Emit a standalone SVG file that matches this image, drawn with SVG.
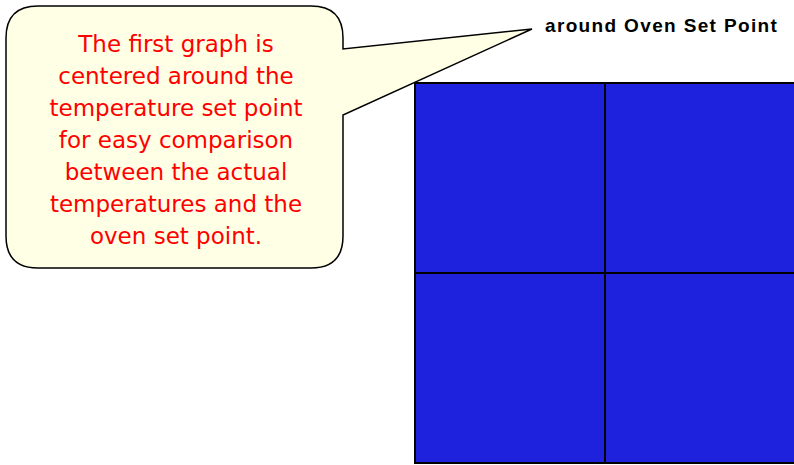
<svg xmlns="http://www.w3.org/2000/svg" width="794" height="465" viewBox="0 0 794 465">
<style>
.callout{fill:#FFFFE6;stroke:#000;stroke-width:1.5}
.ctext{font-family:"DejaVu Sans",Verdana,sans-serif;font-size:23px;fill:#FF0000;text-anchor:middle}
.title{font-family:"Liberation Sans",Arial,sans-serif;font-size:19px;font-weight:bold;fill:#000}
.cell{fill:#1F22DD;stroke:#000;stroke-width:2}
</style>
<rect width="794" height="465" fill="#fff"/>
<g id="chart">
<rect class="cell" x="415" y="83" width="190" height="190"/>
<rect class="cell" x="605" y="83" width="192" height="190"/>
<rect class="cell" x="415" y="273" width="190" height="190"/>
<rect class="cell" x="605" y="273" width="192" height="190"/>
</g>
<g id="title">
<text class="title" x="545" y="32" letter-spacing="1.35">around Oven Set Point</text>
</g>
<g id="callout">
<path class="callout" d="M38,6 H311 Q343,6 343,38 V49 L532,29 L343,115 V236 Q343,268 311,268 H38 Q6,268 6,236 V38 Q6,6 38,6 Z"/>
<text class="ctext" x="176" y="52">The first graph is</text>
<text class="ctext" x="176" y="84">centered around the</text>
<text class="ctext" x="176" y="116">temperature set point</text>
<text class="ctext" x="176" y="148">for easy comparison</text>
<text class="ctext" x="176" y="180">between the actual</text>
<text class="ctext" x="176" y="212">temperatures and the</text>
<text class="ctext" x="176" y="244">oven set point.</text>
</g>
</svg>
